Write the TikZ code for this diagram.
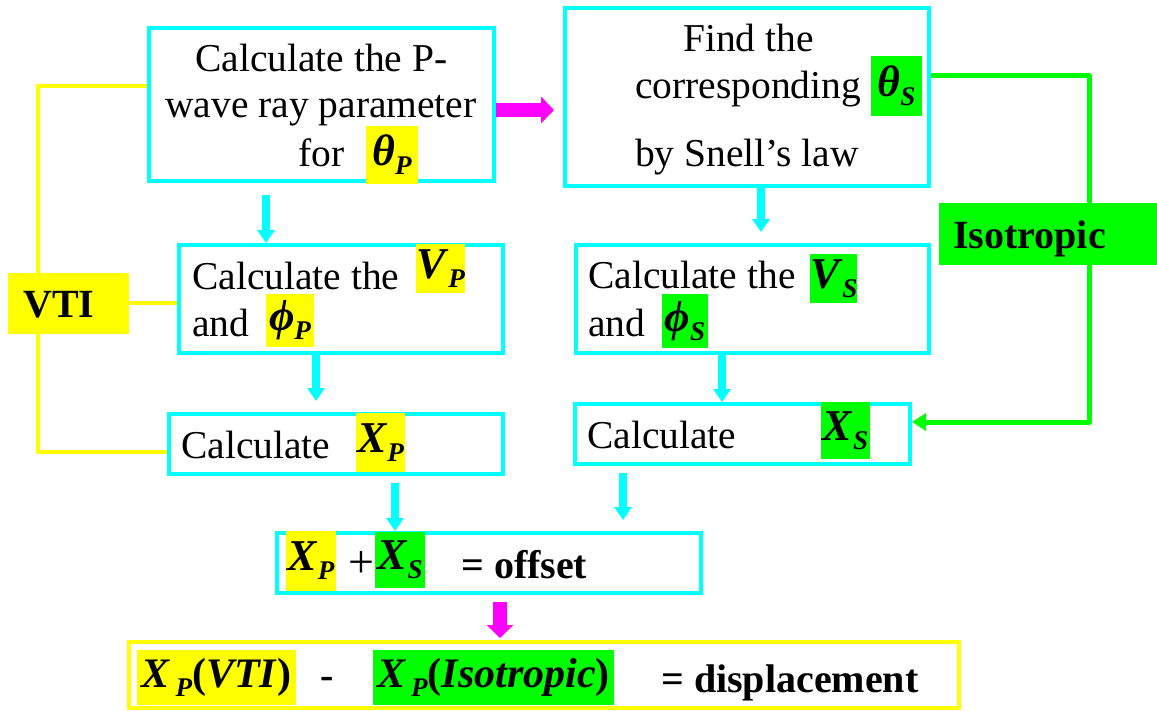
\documentclass[tikz,border=0pt]{standalone}
\usepackage{fontspec}
\setmainfont{Liberation Serif}
\usetikzlibrary{arrows.meta,calc}
\definecolor{cy}{HTML}{00FFFF}
\definecolor{yl}{HTML}{FFFF00}
\definecolor{gr}{HTML}{00FF00}
\definecolor{mg}{HTML}{FF00FF}
\newcommand\bi[1]{\textbf{\textit{#1}}}
\newcommand\sbs[1]{\raisebox{-9pt}{\fontsize{27}{27}\selectfont\bfseries\itshape #1}}
\tikzset{
 txt/.style={anchor=base west, inner sep=0pt, font=\fontsize{39.5}{47}\selectfont},
 btxt/.style={anchor=base west, inner sep=0pt, font=\fontsize{40}{48}\selectfont\bfseries},
 box/.style={draw=cy, line width=4pt, anchor=north west, inner sep=0pt},
 ybox/.style={draw=yl, line width=4pt, anchor=north west, inner sep=0pt},
 hly/.style={fill=yl, anchor=north west, inner sep=0pt, outer sep=0pt, font=\fontsize{44}{50}\selectfont},
 hlg/.style={fill=gr, anchor=north west, inner sep=0pt, outer sep=0pt, font=\fontsize{44}{50}\selectfont},
 carrow/.style={draw=cy, line width=8pt, -{Triangle[width=17pt,length=13pt]}},
 marrow/.style={draw=mg, line width=14pt, -{Triangle[width=26pt,length=13pt]}},
 yline/.style={draw=yl, line width=4pt, line join=round},
 gline/.style={draw=gr, line width=5pt, line join=round, -{Triangle[width=17pt,length=14pt]}},
}
\begin{document}
\begin{tikzpicture}[x=1pt,y=-1pt]
\fill[white] (0,0) rectangle (1157,711);
\useasboundingbox (0,0) rectangle (1157,711);

% boxes
\node[box, minimum width=345pt, minimum height=153pt] (A) at (147,26) {};
\node[box, minimum width=364pt, minimum height=178pt] (B) at (563,6) {};
\node[box, minimum width=324pt, minimum height=108pt] (C) at (177,243) {};
\node[box, minimum width=353pt, minimum height=108pt] (D) at (574,243) {};
\node[box, minimum width=334pt, minimum height=60pt] (E) at (167,412) {};
\node[box, minimum width=335pt, minimum height=60pt] (F) at (573,402) {};
\node[box, minimum width=424pt, minimum height=60pt] (G) at (275,531) {};
\node[ybox, minimum width=830pt, minimum height=66pt] (H) at (127,640) {};

% coordinates for connectors
\coordinate (ytop) at (38,86);
\coordinate (ybot) at (38,452);
\coordinate (yc) at (0,303);
\coordinate (gt) at (1089,76);
\coordinate (gb) at (1089,422);
\coordinate (yAB) at (0,110);
\coordinate (xAC) at (266,0);
\coordinate (xBD) at (761,0);
\coordinate (xCE) at (316,0);
\coordinate (xDF) at (722,0);
\coordinate (xEG) at (395,0);
\coordinate (xFG) at (623,0);
\coordinate (xGH) at (500,0);

% side lines
\draw[yline] (A.west |- ytop) -- (ytop) -- (ybot) -- (E.west |- ybot);
\draw[gline] (B.east |- gt) -- (gt) -- (gb) -- (F.east |- gb);

% labels VTI / Isotropic
\node[fill=yl, anchor=north west, inner sep=0pt, outer sep=0pt, minimum width=121pt, minimum height=61pt] (vti) at (8,273) {};
\node[btxt] (vtit) at (23,318) {VTI};
\draw[yline] (vti.east |- yc) -- (C.west |- yc);
\node[fill=gr, anchor=north west, inner sep=0pt, outer sep=0pt, minimum width=218pt, minimum height=62pt] (iso) at (939,203) {};
\node[btxt] (isot) at (953,249) {Isotropic};

% texts box A
\node[txt] (a1) at (195,72) {Calculate the P-};
\node[txt] (a2) at (165,118) {wave ray parameter};
\node[txt] (a3) at (298,167) {for};
\node[hly, minimum width=52pt, minimum height=58pt] (hthP) at (366,126) {\bi{θ}\sbs{P}};

% box B
\node[txt] (b1) at (683,52) {Find the};
\node[txt] (b2) at (635,99) {corresponding};
\node[txt] (b3) at (635,167) {by Snell’s law};
\node[hlg, minimum width=51pt, minimum height=60pt] (hthS) at (871,56) {\bi{θ}\sbs{S}};

% box C
\node[txt] (c1) at (192,290) {Calculate the};
\node[txt] (c2) at (192,337) {and};
\node[hly, minimum width=46pt, minimum height=49pt] (hVP) at (416,244) {\bi{V}\sbs{P}};
\node[hly, minimum width=48pt, minimum height=53pt] (hphP) at (266,294) {\bi{ϕ}\sbs{P}};

% box D
\node[txt] (d1) at (588,289) {Calculate the};
\node[txt] (d2) at (588,337) {and};
\node[hlg, minimum width=45pt, minimum height=49pt] (hVS) at (810,254) {\bi{V}\sbs{S}};
\node[hlg, minimum width=46pt, minimum height=54pt] (hphS) at (662,294) {\bi{ϕ}\sbs{S}};

% box E
\node[txt] (e1) at (181,458) {Calculate};
\node[hly, minimum width=49pt, minimum height=59pt] (hXPe) at (356,413) {\bi{X}\sbs{P}};

% box F
\node[txt] (f1) at (587,448) {Calculate};
\node[hlg, minimum width=49pt, minimum height=57pt] (hXSf) at (821,402) {\bi{X}\sbs{S}};

% box G
\node[hly, minimum width=50pt, minimum height=60pt] (hXPg) at (286,531) {\bi{X}\sbs{P}};
\node[txt, anchor=center, font=\fontsize{46}{50}\selectfont] (plus) at (361,565) {+};
\node[hlg, minimum width=50pt, minimum height=56pt] (hXSg) at (375,532) {\bi{X}\sbs{S}};
\node[btxt] (off) at (461,578) {= offset};

% box H
\node[hly, minimum width=159pt, minimum height=55pt, font=\fontsize{42}{48}\selectfont] (hXPV) at (137,650) {\bi{X}\kern5pt\sbs{P}\textbf{(}\bi{VTI}\textbf{)}};
\node[btxt, anchor=center] (minus) at (327,683) {-};
\node[hlg, minimum width=241pt, minimum height=55pt, font=\fontsize{42}{48}\selectfont] (hXPI) at (373,650) {\bi{X}\kern5pt\sbs{P}\textbf{(}\bi{Isotropic}\textbf{)}};
\node[btxt] (disp) at (661,692) {= displacement};

% arrows
\draw[marrow, shorten >=9pt] (A.east |- yAB) -- (B.west |- yAB);
\draw[carrow, shorten <=12pt] (xAC |- A.south) -- (xAC |- C.north);
\draw[carrow, shorten >=11pt] (xBD |- B.south) -- (xBD |- D.north);
\draw[carrow, shorten >=11pt] (xCE |- C.south) -- (xCE |- E.north);
\draw[carrow] (xDF |- D.south) -- (xDF |- F.north);
\draw[carrow, shorten <=7pt] (xEG |- E.south) -- (xEG |- G.north);
\draw[carrow, shorten <=7pt, shorten >=11pt] (xFG |- F.south) -- (xFG |- G.north);
\draw[marrow, shorten <=7pt, shorten >=2pt] (xGH |- G.south) -- (xGH |- H.north);
\end{tikzpicture}
\end{document}
